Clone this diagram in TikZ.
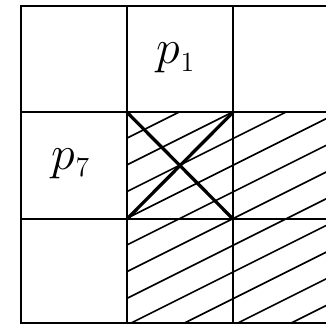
\documentclass[tikz,border=0pt]{standalone}
\DeclareMathSizes{24.88}{24.88}{14.4}{12}
\begin{document}
\begin{tikzpicture}[x=0.518pt,y=-0.518pt,
  gridline/.style={line width=1pt},
  crossline/.style={line width=1.7pt},
  hatchline/.style={line width=0.85pt},
  lab/.style={font=\Huge, inner sep=0pt, anchor=base}]
\useasboundingbox (0,0) rectangle (326,325);
\clip (0,0) rectangle (326,325);
% hatching of the lower-right 2x2 block
\begin{scope}
  \clip (127,112.3) rectangle (340,323.3);
  \foreach \k in {-2,...,12} {
    \draw[hatchline] (126.7,138.3+26.7*\k) ++(-10,5) -- ++(240,-120);
  }
\end{scope}
% grid
\coordinate (tl) at (21,5.7);
\coordinate (br) at (340,323.3);
\draw[gridline] (tl) rectangle (br);
\foreach \x in {127,233} { \draw[gridline] (\x,5.7) -- (\x,323.3); }
\foreach \y in {112.3,219} { \draw[gridline] (21,\y) -- (340,\y); }
% cross in the centre cell
\coordinate (c11) at (127,112.3);
\coordinate (c12) at (233,112.3);
\coordinate (c21) at (127,219);
\coordinate (c22) at (233,219);
\draw[crossline] (c11) -- (c22);
\draw[crossline] (c21) -- (c12);
% labels
\node[lab] (p1) at (176,64) {$p_1$};
\node[lab] (p7) at (71,169.7) {$p_7$};
\end{tikzpicture}
\end{document}
